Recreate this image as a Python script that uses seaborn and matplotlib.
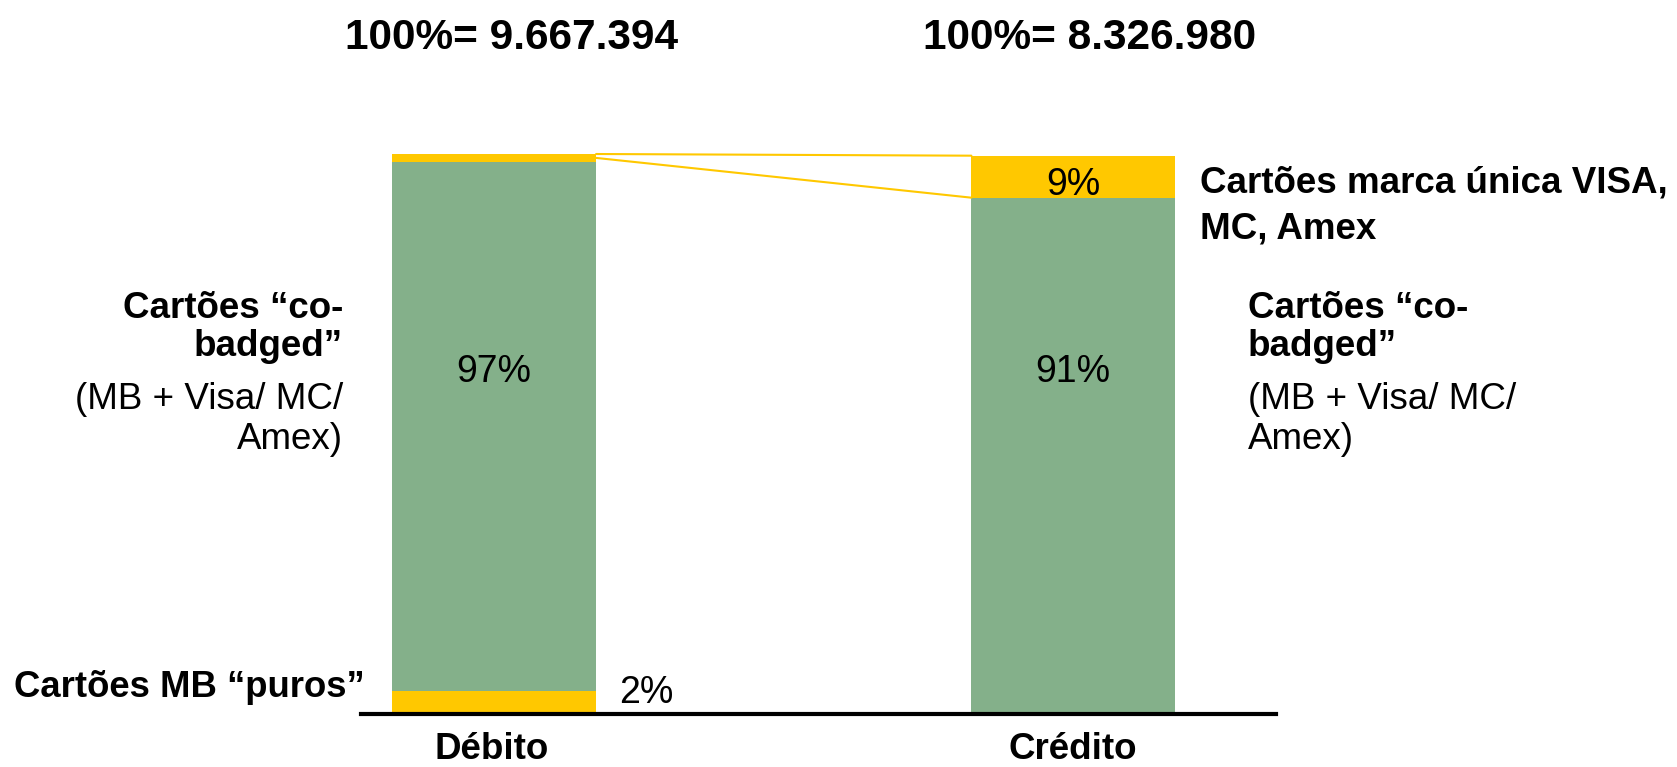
import seaborn as sns
import matplotlib.pyplot as plt
import pandas as pd

# values (share of cards, %)
categories = ["Débito", "Crédito"]
mb_puros = [4.1, 0.0]
co_badged = [94.5, 92.2]
marca_unica = [1.4, 7.5]

# printed labels
totals = ["100%= 9.667.394", "100%= 8.326.980"]
lbl_cobadged = ["97%", "91%"]
lbl_puros = "2%"
lbl_unica = "9%"

GREEN = "#84B08A"
YELLOW = "#FFC800"

df = pd.DataFrame({"cat": categories, "puros": mb_puros,
                   "cob": co_badged, "unica": marca_unica})
df["l1"] = df["puros"]
df["l2"] = df["puros"] + df["cob"]
df["l3"] = df["l2"] + df["unica"]

sns.set_theme(style="white")
plt.rcParams["font.family"] = ["Liberation Sans", "DejaVu Sans"]
plt.rcParams["text.color"] = "black"

W, H = 1677, 767
fig = plt.figure(figsize=(W / 100, H / 100), dpi=100)
ax = fig.add_axes([361 / W, 53 / H, 915 / W, 560 / H])

bw = 0.352
# stacked bars drawn from the top layer down
for col, c in [("l3", YELLOW), ("l2", GREEN), ("l1", YELLOW)]:
    sns.barplot(data=df, x="cat", y=col, color=c, width=bw, saturation=1,
                linewidth=0, edgecolor="none", ax=ax)

ax.set_xlim(-0.23, 1.35)
ax.set_ylim(0, 100)
ax.set_xlabel("")
ax.set_ylabel("")
ax.set_xticks([])
ax.set_yticks([])
for s in ["top", "left", "right"]:
    ax.spines[s].set_visible(False)
ax.spines["bottom"].set_linewidth(3)
ax.spines["bottom"].set_color("black")

# connector lines between the "marca única" segments
x0 = 0 + bw / 2
x1 = 1 - bw / 2
ax.plot([x0, x1], [df["l3"][0], df["l3"][1]], color=YELLOW, lw=1.5, clip_on=False)
ax.plot([x0, x1], [df["l2"][0] + 0.7, df["l2"][1]], color=YELLOW, lw=1.5, clip_on=False)

# in-bar labels
pfs = 27
for i in range(2):
    ax.text(i, 61, lbl_cobadged[i], ha="center", va="center", fontsize=pfs)
ax.text(1, df["l3"][1] - 5.2, lbl_unica, ha="center", va="center", fontsize=pfs)
ax.text(0.262, 3.8, lbl_puros, ha="center", va="center", fontsize=pfs)


def px(x, y):
    return x / W, 1 - y / H


fs = 26.5
# titles and category names
fig.text(*px(512, 49), totals[0], ha="center", va="baseline", fontsize=30.5, fontweight="bold")
fig.text(*px(1090, 49), totals[1], ha="center", va="baseline", fontsize=30.5, fontweight="bold")
fig.text(*px(492, 759), categories[0], ha="center", va="baseline", fontsize=26.5, fontweight="bold")
fig.text(*px(1073, 759), categories[1], ha="center", va="baseline", fontsize=26.5, fontweight="bold")

# side labels
cob_lines = [("Cartões \u201cco-", "bold", 318), ("badged\u201d", "bold", 356),
             ("(MB + Visa/ MC/", "normal", 409), ("Amex)", "normal", 449)]
for t, w, y in cob_lines:
    fig.text(*px(343, y), t, ha="right", va="baseline", fontsize=fs, fontweight=w)
    fig.text(*px(1248, y), t, ha="left", va="baseline", fontsize=fs, fontweight=w)

fig.text(*px(1200, 192), "Cartões marca única VISA,", ha="left", va="baseline",
         fontsize=fs, fontweight="bold")
fig.text(*px(1200, 239), "MC, Amex", ha="left", va="baseline", fontsize=fs, fontweight="bold")
fig.text(*px(365, 697), "Cartões MB \u201cpuros\u201d", ha="right", va="baseline",
         fontsize=26.3, fontweight="bold")

fig.savefig("out.png", dpi=100)
